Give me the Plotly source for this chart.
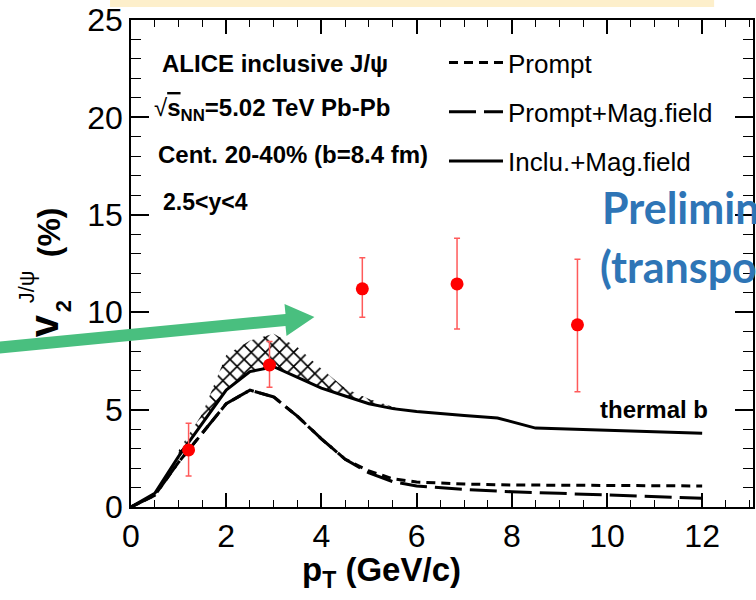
import plotly.graph_objects as go

# ---------------- data ----------------
pt_model = [0, 0.5, 1, 1.5, 2, 2.5, 3, 3.5, 4, 4.5, 5, 5.5, 6, 7, 8, 9, 10, 11, 12]
prompt_v2 = [0, 0.6, 2.3, 3.8, 5.3, 6.0, 5.65, 4.65, 3.5, 2.45, 1.85, 1.45, 1.28, 1.18, 1.13, 1.12, 1.1, 1.1, 1.08]
prompt_mag_v2 = [0, 0.6, 2.3, 3.8, 5.3, 6.0, 5.65, 4.65, 3.5, 2.45, 1.75, 1.3, 1.08, 0.9, 0.78, 0.7, 0.62, 0.53, 0.45]

pt_inclu = [0, 0.5, 1, 1.5, 2, 2.5, 3, 3.5, 4, 4.5, 5, 5.5, 6, 7, 7.7, 8.5, 10, 12]
inclu_mag_v2 = [0, 0.7, 2.6, 4.3, 6.0, 6.95, 7.2, 6.65, 6.1, 5.7, 5.3, 5.05, 4.9, 4.7, 4.57, 4.05, 3.93, 3.78]

pt_band = [1.0, 1.5, 2.0, 2.5, 3.0, 3.5, 4.0, 4.5, 5.0, 5.5, 5.8]
band_low = [2.6, 4.3, 6.0, 6.95, 7.2, 6.65, 6.1, 5.7, 5.3, 5.05, 4.96]
band_high = [2.9, 4.8, 7.8, 8.55, 8.9, 8.2, 7.1, 6.1, 5.55, 5.15, 4.96]

pt_data = [1.21, 2.91, 4.86, 6.85, 9.38]
v2_data = [2.93, 7.29, 11.2, 11.45, 9.35]
v2_err_up = [1.37, 1.2, 1.59, 2.35, 3.37]
v2_err_down = [1.34, 1.14, 1.46, 2.31, 3.44]

x_tick_vals = [0, 2, 4, 6, 8, 10, 12]
y_tick_vals = [0, 5, 10, 15, 20, 25]

# ---------------- layout helpers (pixel -> paper) ----------------
W, H = 756, 600
L, R, T, B = 131, 755, 20, 507


def px(x):
    return (x - L) / (R - L)


def py(y):
    return (B - y) / (B - T)


ROOT_FONT = "Liberation Sans, Arial, Helvetica, sans-serif"
BLACK = "#000000"

fig = go.Figure()

# hatched band (lower edge then upper edge filled)
fig.add_trace(go.Scatter(x=pt_band, y=band_low, mode="lines",
                         line=dict(color="rgba(0,0,0,0)", width=0),
                         showlegend=False, hoverinfo="skip"))
fig.add_trace(go.Scatter(x=pt_band, y=band_high, mode="lines",
                         line=dict(color="rgba(0,0,0,0)", width=0),
                         fill="tonexty", fillcolor="rgba(0,0,0,0)",
                         fillpattern=dict(shape="x", fgcolor="black", fgopacity=1,
                                          bgcolor="rgba(255,255,255,0)",
                                          size=10, solidity=0.3),
                         showlegend=False, hoverinfo="skip"))

fig.add_trace(go.Scatter(x=pt_model, y=prompt_v2, mode="lines", name="Prompt",
                         legendgroup="a",
                         line=dict(color=BLACK, width=3, dash="9px,6px")))
fig.add_trace(go.Scatter(x=pt_model, y=prompt_mag_v2, mode="lines", name="Prompt+Mag.field",
                         legendgroup="b",
                         line=dict(color=BLACK, width=3, dash="27px,8px")))
fig.add_trace(go.Scatter(x=pt_inclu, y=inclu_mag_v2, mode="lines", name="Inclu.+Mag.field",
                         legendgroup="c",
                         line=dict(color=BLACK, width=3)))

fig.add_trace(go.Scatter(x=pt_data, y=v2_data, mode="markers", name="ALICE",
                         showlegend=False,
                         marker=dict(color="#ff0000", size=13),
                         error_y=dict(type="data", array=v2_err_up, arrayminus=v2_err_down,
                                      color="#ff5a5a", thickness=1.5, width=3)))

annotations = []


def ann(text, x, y, size, xanchor="left", yanchor="middle", color=BLACK, family=ROOT_FONT, angle=0):
    annotations.append(dict(text=text, x=px(x), y=py(y), xref="paper", yref="paper",
                            xanchor=xanchor, yanchor=yanchor, showarrow=False,
                            textangle=angle,
                            font=dict(size=size, color=color, family=family)))


ann("<b>ALICE inclusive J/ψ</b>", 160, 63, 24)
ann("√<span style='text-decoration:overline'><b>s</b></span><b><sub>NN</sub>=5.02 TeV Pb-Pb</b>", 152, 110, 24)
ann("<b>Cent. 20-40% (b=8.4 fm)</b>", 156, 155, 24)
ann("<b>2.5&lt;y&lt;4</b>", 161, 202, 23)
ann("<b>thermal b</b>", 599, 409, 24)

# blue overlay text (cut by the right edge of the slide)
BLUE = "#2e75b6"
ann("<b>Preliminary</b>", 602, 207, 43, color=BLUE, family="Lato, Noto Sans, sans-serif")
ann("<b>(transport)</b>", 600, 266, 43, color=BLUE, family="Lato, Noto Sans, sans-serif")

# axis titles
ann("<b>p<sub>T</sub> (GeV/c)</b>", 301, 572, 33)
ann("<b>(%)</b>", 49, 232, 32, xanchor="center", angle=-90)
ann("<b>v</b>", 44, 326, 40, xanchor="center", angle=-90)
ann("<b>2</b>", 64, 306, 22, xanchor="center", angle=-90)
ann("J/ψ", 26, 287, 22, xanchor="center", angle=-90)

shapes = []
# beige band at the top of the slide
shapes.append(dict(type="rect", xref="paper", yref="paper",
                   x0=px(110), x1=px(716), y0=py(0), y1=py(7),
                   fillcolor="#fdefcb", line=dict(width=0), layer="below"))

# green arrow
ax0, ay0 = -6, 348
ax1, ay1 = 286, 320
hw = 6
path = (f"M{px(ax0)},{py(ay0 - hw)} L{px(ax1)},{py(ay1 - hw)} L{px(ax1 - 1)},{py(304)} "
        f"L{px(315)},{py(317)} L{px(ax1 + 1)},{py(336)} L{px(ax1)},{py(ay1 + hw)} "
        f"L{px(ax0)},{py(ay0 + hw)} Z")
shapes.append(dict(type="path", xref="paper", yref="paper", path=path,
                   fillcolor="#49bf7f", line=dict(width=0), layer="above"))

fig.update_layout(
    width=W, height=H,
    margin=dict(l=L, r=W - R, t=T, b=H - B, pad=0),
    paper_bgcolor="white", plot_bgcolor="white",
    font=dict(family=ROOT_FONT, color=BLACK),
    annotations=annotations,
    shapes=shapes,
    showlegend=True,
    legend=dict(x=px(445), y=py(39), xanchor="left", yanchor="top",
                bgcolor="rgba(0,0,0,0)", font=dict(size=26, family=ROOT_FONT),
                itemwidth=54, tracegroupgap=12.5, traceorder="grouped"),
    xaxis=dict(range=[0, (R - L) / 47.75], tickvals=x_tick_vals,
               ticks="inside", ticklen=14, tickwidth=1.5, tickcolor=BLACK,
               showline=True, linecolor=BLACK, linewidth=1.5, mirror="ticks",
               showgrid=False, zeroline=False,
               tickfont=dict(size=32, family=ROOT_FONT, color=BLACK),
               minor=dict(dtick=0.5, ticks="inside", ticklen=7, tickwidth=1, tickcolor=BLACK)),
    yaxis=dict(range=[0, 25], tickvals=y_tick_vals,
               ticks="inside", ticklen=18, tickwidth=1.5, tickcolor=BLACK,
               showline=True, linecolor=BLACK, linewidth=1.5, mirror="ticks",
               showgrid=False, zeroline=False,
               tickfont=dict(size=32, family=ROOT_FONT, color=BLACK),
               minor=dict(dtick=1, ticks="inside", ticklen=10, tickwidth=1, tickcolor=BLACK)),
)

fig.write_html("out.html")
